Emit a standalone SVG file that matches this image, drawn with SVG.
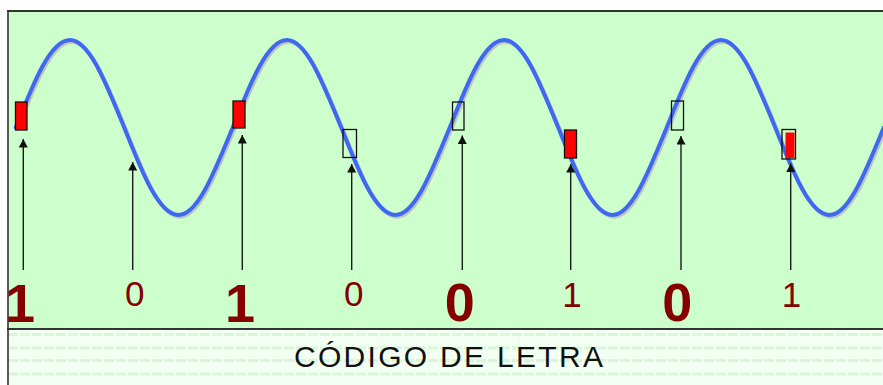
<svg xmlns="http://www.w3.org/2000/svg" width="883" height="385" viewBox="0 0 883 385">
<style>
.wave{fill:none;stroke:#3f68f2;stroke-width:4;stroke-linecap:round}
.shadow{fill:none;stroke:#b49cb4;stroke-width:4;opacity:.6}
.on{fill:#ff0000;stroke:#111;stroke-width:1.3}
.off{fill:none;stroke:#111;stroke-width:1.3}
.arr{stroke:#1a1a1a;stroke-width:1.4;marker-end:url(#ah)}
.big{font-family:"Liberation Sans",Arial,sans-serif;font-weight:bold;font-size:54px;fill:#850000;text-anchor:middle}
.small{font-family:"Liberation Sans",Arial,sans-serif;font-size:35px;fill:#850000;text-anchor:middle}
.stripe{stroke:#d6f8d6;stroke-width:3;stroke-dasharray:10 2}
</style>
<defs>
<marker id="ah" markerUnits="userSpaceOnUse" markerWidth="12" markerHeight="12" refX="8.5" refY="4.5" orient="auto">
<path d="M0,0 L8.5,4.5 L0,9 z" fill="#111"/>
</marker>
<path id="sine" d="M15.75,127.5 c17.69,-44.83 34.62,-87.5 54.25,-87.5 c19.63,0 36.56,44.83 54.25,87.5 c17.69,44.83 34.62,87.5 54.25,87.5 c19.63,0 36.56,-44.83 54.25,-87.5 c17.69,-44.83 34.62,-87.5 54.25,-87.5 c19.63,0 36.56,44.83 54.25,87.5 c17.69,44.83 34.62,87.5 54.25,87.5 c19.63,0 36.56,-44.83 54.25,-87.5 c17.69,-44.83 34.62,-87.5 54.25,-87.5 c19.63,0 36.56,44.83 54.25,87.5 c17.69,44.83 34.62,87.5 54.25,87.5 c19.63,0 36.56,-44.83 54.25,-87.5 c17.69,-44.83 34.62,-87.5 54.25,-87.5 c19.63,0 36.56,44.83 54.25,87.5 c17.69,44.83 34.62,87.5 54.25,87.5 c19.63,0 36.56,-44.83 54.25,-87.5"/>
</defs>
<rect x="0" y="0" width="883" height="385" fill="#ffffff"/>
<g id="panel">
<rect x="8" y="11" width="880" height="318" fill="#ccffcc"/>
<rect x="8" y="330" width="880" height="60" fill="#f4fff4"/>
<line class="stripe" x1="8" y1="334.5" x2="883" y2="334.5"/>
<line class="stripe" x1="8" y1="348" x2="883" y2="348"/>
<line class="stripe" x1="8" y1="360.5" x2="883" y2="360.5"/>
<line class="stripe" x1="8" y1="374" x2="883" y2="374"/>
<line x1="7" y1="11" x2="883" y2="11" stroke="#333" stroke-width="2"/>
<line x1="7" y1="329" x2="883" y2="329" stroke="#333" stroke-width="2"/>
<line x1="8" y1="10" x2="8" y2="385" stroke="#333" stroke-width="1.6"/>
</g>
<g id="wave">
<use href="#sine" class="shadow" transform="translate(1.5,1.8)"/>
<use href="#sine" class="wave"/>
</g>
<g id="connectors">
<line class="arr" x1="23.3" y1="270" x2="23.3" y2="139"/>
<line class="arr" x1="132.7" y1="270" x2="132.7" y2="162"/>
<line class="arr" x1="242.3" y1="270" x2="242.3" y2="135"/>
<line class="arr" x1="351.7" y1="270" x2="351.7" y2="164"/>
<line class="arr" x1="462.3" y1="270" x2="462.3" y2="135.5"/>
<line class="arr" x1="570.7" y1="270" x2="570.7" y2="164"/>
<line class="arr" x1="681" y1="270" x2="681" y2="136"/>
<line class="arr" x1="790.7" y1="270" x2="790.7" y2="163.5"/>
</g>
<g id="bit1"><rect class="on" x="15.5" y="102" width="11.5" height="28"/><text class="big" x="20" y="321.5">1</text></g>
<g id="bit2"><text class="small" x="134.7" y="305.5">0</text></g>
<g id="bit3"><rect class="on" x="233" y="101" width="12" height="27"/><text class="big" x="240" y="321.5">1</text></g>
<g id="bit4"><rect class="off" x="343" y="129.5" width="13.5" height="28"/><text class="small" x="353.8" y="305.5">0</text></g>
<g id="bit5"><rect class="off" x="452.5" y="102" width="11.5" height="28"/><text class="big" x="459.7" y="320.5">0</text></g>
<g id="bit6"><rect class="on" x="564.5" y="130" width="12" height="28"/><text class="small" x="572" y="306.5">1</text></g>
<g id="bit7"><rect class="off" x="671.5" y="101" width="12" height="29"/><text class="big" x="677.3" y="320.5">0</text></g>
<g id="bit8"><rect class="off" x="782" y="129.5" width="13.5" height="29.5"/><rect x="785.5" y="132.5" width="9" height="25.5" fill="#ff0000"/><text class="small" x="791.5" y="306.5">1</text></g>
<g id="caption"><text x="294" y="367" font-family="'Liberation Sans',Arial,sans-serif" font-size="30" letter-spacing="2.3" fill="#111">CÓDIGO DE LETRA</text></g>
</svg>
